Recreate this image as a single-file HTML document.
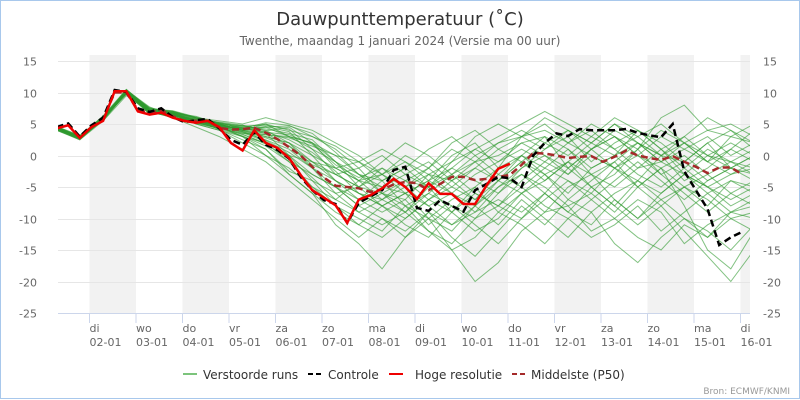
<!DOCTYPE html>
<html><head><meta charset="utf-8"><style>
body{margin:0;background:#fff}
svg{display:block;font-family:"DejaVu Sans","Liberation Sans",sans-serif}
</style></head><body>
<svg id="chart" width="800" height="400" viewBox="0 0 800 400" xmlns="http://www.w3.org/2000/svg">
<rect x="0.5" y="0.5" width="799" height="398" fill="#fff" stroke="#a8c8ec" stroke-width="1"/>
<text x="400" y="25" text-anchor="middle" font-size="18" fill="#333">Dauwpunttemperatuur (˚C)</text>
<text x="400" y="45" text-anchor="middle" font-size="12" fill="#666">Twenthe, maandag 1 januari 2024 (Versie ma 00 uur)</text>
<g id="bands"></g><g id="grid"></g><g id="axes"></g>
<g id="plot" clip-path="url(#clip)"></g>
<defs><clipPath id="clip"><rect x="58" y="55" width="692" height="258"/></clipPath></defs>
<g>
<g><line x1="183" y1="374" x2="197" y2="374" stroke="#7cc47c" stroke-width="2"/><text x="203" y="379" font-size="12" fill="#333">Verstoorde runs</text></g>
<g><line x1="308" y1="374" x2="322" y2="374" stroke="#000" stroke-width="2" stroke-dasharray="5,3"/><text x="328" y="379" font-size="12" fill="#333">Controle</text></g>
<g><line x1="389" y1="374" x2="403" y2="374" stroke="#e00" stroke-width="2"/><text x="415" y="379" font-size="12" fill="#333">Hoge resolutie</text></g>
<g><line x1="512" y1="374" x2="526" y2="374" stroke="#a52a2a" stroke-width="2" stroke-dasharray="5,3"/><text x="531" y="379" font-size="12" fill="#333">Middelste (P50)</text></g>
</g>
<text x="790" y="394" text-anchor="end" font-size="9" fill="#999">Bron: ECMWF/KNMI</text>
</svg>
<script>
const dayNames=["di","wo","do","vr","za","zo","ma","di","wo","do","vr","za","zo","ma","di"];
const dayDates=["02-01","03-01","04-01","05-01","06-01","07-01","08-01","09-01","10-01","11-01","12-01","13-01","14-01","15-01","16-01"];
const yTicks=[15,10,5,0,-5,-10,-15,-20,-25];
const controle=[4.5,5.1,3,4.8,6,10.4,10.1,7.5,6.9,7.5,6.1,5.3,5.6,5.8,4.3,2.5,1.7,3.7,1.7,0.9,-0.5,-3.4,-5.5,-7.1,-7.7,-10.7,-7.5,-6.5,-5.5,-2.3,-1.8,-8.3,-8.8,-7.1,-8,-8.9,-5.5,-4.5,-3.4,-3.6,-5,0,2,3.5,3.1,4.2,4,4,4,4.2,3.6,3.2,2.9,5,-2.5,-5.5,-8.5,-14.2,-13,-12.1];
const hogeResolutie=[4.3,4.8,2.8,4.5,5.5,10.2,10.2,7,6.5,6.8,6,5.5,5.2,5.5,4.5,2,0.8,4,2,1.2,-0.4,-3.1,-5.5,-6.7,-7.9,-10.7,-7,-6.3,-5.2,-3.7,-5,-6.9,-4.4,-6.1,-6.1,-7.7,-7.7,-4.7,-2.1,-1.3];
const middelste=[4.3,4.9,2.9,4.7,5.8,10,10,7.2,6.8,7.2,6.2,5.5,5.5,5.5,4.4,4.1,4.2,4.4,3.6,2.6,1.3,0,-1.8,-3.5,-4.8,-5,-5.2,-5.8,-5.4,-4.6,-4.2,-4.4,-5.5,-4.5,-3.4,-3.4,-3.9,-3.7,-3.4,-3.1,-1.5,0.4,0.3,0,-0.4,-0.2,-0.1,-1,-0.2,0.8,0,-0.4,-0.7,-0.1,-1,-1.8,-2.8,-1.9,-1.9,-3];
const ens1=[4.5,3,6,10.5,7.5,7,6,5,4,4.5,3,1,-1,-3,-4,-2,-5,-3,0,2,3,1,4,2,5,3,0,2,4,5,3];
const ens2=[4,2.5,5.5,9.5,7,6.5,5,4,2,0,-2,-5,-8,-10,-12,-8,-10,-15,-20,-17,-12,-9,-8,-12,-10,-7,-9,-14,-11,-9,-8];
const ens3=[4.2,2.8,6,10,7,6,5.5,5,4.5,5,4,3,1,-2,-6,-7,-3,-6,-8,-5,-2,1,3,-1,2,4,1,-3,-6,-4,-5];
const ens4=[4.4,3,6.2,10.3,6.5,6.8,5,4,3,1,-3,-6,-9,-11,-8,-6,-10,-7,-5,-9,-6,-3,-7,-4,-1,-5,-2,-8,-15,-18,-12];
const ens5=[4.1,2.5,5.8,9.8,7.2,7,6,5.5,5,6,5,4,2,0,-3,-1,-4,0,2,-2,3,4,2,5,3,1,6,8,4,3,2];
const ens6=[4.3,2.9,5.5,10,7,6,4.5,3,1,-1,-4,-7,-10,-13,-10,-13,-9,-11,-8,-4,-6,-9,-5,-3,-7,-10,-6,-3,-5,-8,-6];
const ens7=[4.6,3.2,6.1,10.2,7.6,6.7,6.2,5,4,3,2,-1,-3,-5,-2,-4,-7,-5,-2,-4,0,-2,1,-3,-1,2,0,-4,-2,1,-1];
const ens8=[4.2,2.7,5.9,9.7,6.8,6.4,5.2,4.5,3,2,0,-3,-5,-7,-4,-8,-6,-3,-6,-8,-4,-1,2,0,-2,0,3,1,-1,-3,-2];
const ens9=[4.4,3.1,6,10.4,7.3,6.9,5.8,5.3,4.8,4,2,0,-2,-4,-7,-9,-5,-9,-12,-10,-6,-4,-1,-5,-8,-4,0,-1,-4,-2,0];
const ens10=[4,2.6,5.7,9.9,7,6.6,5.6,4.8,4,5,3,2,-1,-5,-3,-6,-8,-11,-9,-5,-3,-6,-2,1,3,0,-3,-1,2,-2,-4];
const ens11=[4.3,2.8,6,10.1,7.1,6.5,5.5,4.6,3.7,2.5,1,-2,-6,-9,-7,-4,-2,1,-1,2,4,2,0,3,1,-2,-1,2,0,-1,1];
const ens12=[4.5,3,6.3,10.5,7.4,7.1,6.1,5.1,4.4,3.5,0,-4,-8,-11,-13,-10,-7,-9,-5,-2,0,-3,-6,-2,0,-3,-5,-2,1,-1,-3];
const ens13=[4.2,2.9,5.9,9.8,6.9,6.3,5.3,4.4,3.3,2,-1,-5,-7,-4,-3,-5,-3,-1,3,5,3,6,4,2,0,4,2,-1,2,4,1];
const ens14=[4.3,2.7,5.8,10,7.2,6.7,5.7,4.9,4.2,3.8,2.5,0.5,-2.5,-6,-8,-11,-13,-9,-6,-8,-10,-7,-4,-6,-2,-5,-8,-12,-16,-20,-15];
const ens15=[4.4,3,6.1,10.2,7,6.6,5.4,4.7,3.8,2.8,1.5,-1,-4,-6,-8,-6,-4,-6,-3,-1,1,-1,-3,0,-2,-4,-6,-3,-5,-7,-5];
const ens16=[4.1,2.6,5.7,9.9,6.8,6.2,5.1,4.3,3.5,3.3,3,2,0,-3,-5,-3,-1,-4,-2,1,-1,-3,-1,2,5,2,0,3,0,-2,0];
const ens17=[4.6,3.1,6.2,10.3,7.5,6.9,6,5.2,4.6,4.2,3.5,2.5,-1,-4,-5,-6,-4,-2,1,-1,2,3,-2,-5,-3,1,-3,-6,-9,-6,-4];
const ens18=[4.2,2.8,5.8,10,7,6.5,5.6,4.6,3,0,-3,-6,-11,-14,-18,-13,-10,-12,-8,-11,-7,-10,-13,-9,-14,-17,-13,-10,-12,-15,-11];
const ens19=[4.3,2.9,6,10.1,7.2,6.8,5.9,5.1,4.7,4.8,4.2,1,-3,-2,0,-3,-5,-2,-4,-6,-3,-5,-8,-6,-9,-5,-2,-5,-3,-6,-8];
const ens20=[4.4,2.9,6,10,7.1,6.6,5.5,4.5,3.8,2.4,0.5,-2,-4,-6,-7,-5,-8,-6,-9,-7,-9,-6,-9,-11,-7,-10,-7,-5,-8,-4,-6];
const ens21=[4.2,2.7,5.9,10.2,7.3,6.7,5.7,4.9,4.1,3.5,1.5,-1.5,-3,-5,-6,-4,-5,-1,1,3,5,7,5,3,6,4,1,3,6,4,2];
const ens22=[4.5,3,6.1,9.9,6.9,6.4,5.3,4.2,3.1,1.5,-1,-3,-5,-8,-10,-12,-9,-13,-16,-12,-8,-11,-7,-9,-6,-4,-7,-10,-13,-10,-12];
const ens23=[4.3,2.8,5.8,10.1,7,6.5,5.5,4.7,4,3.3,2.8,1.5,0,-1,1,-1,-3,-4,-1,0,2,0,-2,1,3,0,-2,0,-3,-1,-2];
const ens24=[4.4,3,6,10.2,7.2,6.8,5.6,4.8,4.2,4.5,4.7,3.5,0.5,-3,-6,-8,-12,-15,-13,-9,-11,-14,-10,-7,-10,-13,-15,-11,-13,-9,-7];
const ens25=[4.3,2.6,6.1,9.8,6.6,6.9,5.2,4.3,4.8,3.9,4.5,2,-2,-1,-3,0,-2,2,4,1,3,5,2,4,1,3,5,2,-1,3,5];
const ens26=[4.5,2.9,5.6,10.4,7.7,6.3,5.8,4.1,2.5,1,-2.5,-4,-6,-5,-8,-10,-7,-4,-7,-3,-5,-2,-4,-7,-4,-1,-4,-7,-4,-2,-3];
const ens27=[4.1,3.1,6.2,10,7.4,6.6,5.1,5.2,4.3,4.6,3.8,0,-4,-7,-9,-7,-11,-8,-10,-6,-2,0,-3,1,4,2,-1,1,3,0,2];
const ens28=[4.4,2.7,5.9,9.9,6.7,6.8,6,4.4,3.6,2.2,0,-1,-2,-4,-1,2,0,-3,-1,-4,-1,2,4,1,-2,1,4,2,-1,1,4];
const ens29=[4.2,3,6,10.3,7.1,6.4,5.4,5,3.9,3,2,-2,-5,-8,-6,-9,-12,-14,-10,-8,-5,-8,-10,-13,-11,-8,-12,-9,-6,-9,-10];
const ens30=[4.6,2.8,5.7,10.1,7.3,7,5.9,4.6,4.4,3.7,3.3,1.8,-1.5,-3.5,-2,-5,-2,-5,-7,-4,-1,-4,-1,-3,-5,-2,1,-2,-5,-3,-1];
const ens31=[4.3,2.9,6,10.2,7,6.5,5.5,4.8,4.3,5.2,4.8,3,1.5,-1,-4,-2,1,3,0,-3,0,3,1,-2,0,2,-1,-3,0,2,0];
const ens32=[4.2,2.8,5.9,10,7.2,6.6,5.4,4.4,3.4,1.8,-0.5,-3.5,-7,-9,-11,-9,-6,-8,-11,-14,-10,-6,-9,-5,-8,-11,-8,-5,-7,-10,-9];
const ensembles=[ens1,ens2,ens3,ens4,ens5,ens6,ens7,ens8,ens9,ens10,ens11,ens12,ens13,ens14,ens15,ens16,ens17,ens18,ens19,ens20,ens21,ens22,ens23,ens24,ens25,ens26,ens27,ens28,ens29,ens30,ens31,ens32];

const NS="http://www.w3.org/2000/svg";
const L=58,R=750,T=61,B=313,yMin=-25,yMax=15;
const firstTick=89.5,dayW=46.5;
function y(v){return B-(v-yMin)/(yMax-yMin)*(B-T);}
function xHour(h){return firstTick+(h-24)*dayW/24;}
function el(tag,attrs,parent){const e=document.createElementNS(NS,tag);for(const k in attrs)e.setAttribute(k,attrs[k]);parent.appendChild(e);return e;}
const bands=document.getElementById('bands'),grid=document.getElementById('grid'),axes=document.getElementById('axes'),plot=document.getElementById('plot');
dayNames.forEach((d,i)=>{
  const x0=firstTick+i*dayW;
  if(i%2===0){const r=el('rect',{x:x0,y:T-6,width:Math.min(dayW,R-x0),height:B-T+6,fill:'#f2f2f2'},bands);
    
    }
  const tk=el('line',{x1:x0,y1:B,x2:x0,y2:B+10,stroke:'#ccd6eb'},axes);
  
  
  const t1=el('text',{x:x0,y:332,'font-size':11,fill:'#666'},axes);t1.textContent=d;
  
  
  const t2=el('text',{x:x0,y:346,'font-size':11,fill:'#666'},axes);t2.textContent=dayDates[i];
  
  
});
yTicks.forEach(v=>{
  const yy=Math.round(y(v))+0.5;
  if(v!==yMin){const g=el('line',{x1:L,y1:yy,x2:R,y2:yy,stroke:'#e6e6e6'},grid);
    
    }
  const a=el('text',{x:37,y:yy+4,'text-anchor':'end','font-size':11,fill:'#666'},axes);a.textContent=v;
  
  
  const b=el('text',{x:763,y:yy+4,'font-size':11,fill:'#666'},axes);b.textContent=v;
  
  
});
const ax=el('line',{x1:L,y1:B+0.5,x2:R,y2:B+0.5,stroke:'#ccd6eb'},axes);


function pathOf(arr,step){return arr.map((v,i)=>(i?'L':'M')+xHour(7+i*step).toFixed(1)+','+y(v).toFixed(1)).join('');}
ensembles.forEach(m=>{
  const p=el('path',{d:pathOf(m,12),fill:'none',stroke:'#2e9a2e','stroke-opacity':0.6,'stroke-width':1},plot);
  
  
});
const pp=el('path',{d:pathOf(middelste,6),fill:'none',stroke:'#a52a2a','stroke-width':2.5,'stroke-dasharray':'7,4'},plot);


const cp=el('path',{d:pathOf(controle,6),fill:'none',stroke:'#000','stroke-width':2.5,'stroke-dasharray':'7,4'},plot);


const hp=el('path',{d:pathOf(hogeResolutie,6),fill:'none',stroke:'#e00','stroke-width':2.5},plot);


</script>
</body></html>
